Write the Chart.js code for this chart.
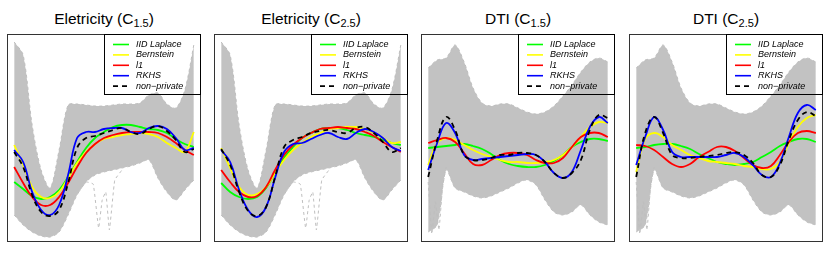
<!DOCTYPE html>
<html>
<head>
<meta charset="utf-8">
<script src="https://cdn.jsdelivr.net/npm/chart.js@4.4.1/dist/chart.umd.min.js"></script>
<style>
body { margin: 0; background: #fff; width: 830px; height: 277px; position: relative; overflow: hidden; font-family: "Liberation Sans", Arial, sans-serif; }
.panel { position: absolute; top: 34px; width: 194px; height: 208px; }
.title { position: absolute; top: 11px; width: 194px; text-align: center; font-size: 15.5px; line-height: 16px; color: #000; white-space: nowrap; }
.title sub { font-size: 11px; vertical-align: -3px; line-height: 0; }
</style>
</head>
<body>
<div class="title" style="left:7px">Eletricity (C<sub>1.5</sub>)</div>
<div class="title" style="left:214px">Eletricity (C<sub>2.5</sub>)</div>
<div class="title" style="left:421px">DTI (C<sub>1.5</sub>)</div>
<div class="title" style="left:629px">DTI (C<sub>2.5</sub>)</div>
<div class="panel" style="left:7px"><canvas id="c1" width="194" height="208"></canvas></div>
<div class="panel" style="left:214px"><canvas id="c2" width="194" height="208"></canvas></div>
<div class="panel" style="left:421px"><canvas id="c3" width="194" height="208"></canvas></div>
<div class="panel" style="left:629px"><canvas id="c4" width="194" height="208"></canvas></div>
<script>
// grid of the curves (percent of the domain)
const xs = [0, 5, 10, 15, 20, 25, 30, 35, 40, 45, 50, 55, 60, 65, 70, 75, 80, 85, 90, 95, 100];

// grey band of the sample curves (upper / lower edge), same data for both C values
const elecUpper = [200, 187, 117, 72, 54, 92, 137, 138, 137, 136, 136, 137, 138, 138, 139, 147, 149, 138, 134, 152, 197];
const elecLower = [27, 17, 10, 6, 5, 10, 27, 47, 60, 67, 70, 72, 74, 76, 79, 82, 64, 50, 42, 52, 62];
const dtiUpper = [174, 182, 184, 197, 180, 154, 139, 136, 138, 138, 134, 130, 128, 130, 136, 146, 157, 170, 180, 184, 180];
const dtiLower = [10, 17, 72, 54, 50, 46, 44, 46, 50, 54, 59, 62, 57, 42, 30, 27, 30, 37, 27, 20, 17];

// a few stray sample curves outside the band (own x positions)
const elecStrayX = [36, 40, 44, 47, 49, 51, 53, 56, 60];
const elecStrayY = [50, 60, 58, 14, 42, 50, 12, 62, 72];
const dtiStrayX = [0, 2, 4, 6, 8, 10];
const dtiStrayY = [60, 8, 40, 12, 55, 75];

// Eletricity, C1.5
const e15Laplace = [60, 53, 46, 43, 45, 52, 65, 80, 94, 104, 110, 115, 117, 117, 115, 113, 112, 109, 103, 98, 95];
const e15Bernstein = [97, 77, 55, 45, 44, 50, 64, 79, 90, 98, 103, 105, 107, 108, 109, 108, 105, 99, 94, 90, 110];
const e15L1 = [75, 59, 45, 37, 37, 45, 59, 75, 89, 98, 104, 107, 109, 110, 110, 110, 109, 105, 99, 92, 87];
const e15Rkhs = [92, 80, 50, 32, 27, 37, 67, 104, 110, 110, 113, 114, 114, 110, 109, 114, 116, 113, 104, 92, 94];
const e15NonPriv = [90, 75, 47, 30, 26, 32, 59, 94, 104, 106, 109, 112, 114, 110, 108, 113, 116, 111, 102, 90, 93];

// Eletricity, C2.5
const e25Laplace = [59, 50, 45, 43, 45, 54, 69, 84, 95, 104, 109, 113, 114, 114, 112, 109, 107, 105, 102, 99, 97];
const e25Bernstein = [94, 74, 55, 47, 48, 55, 69, 82, 92, 99, 105, 109, 113, 114, 115, 115, 113, 109, 104, 99, 100];
const e25L1 = [72, 60, 50, 45, 46, 55, 72, 87, 97, 104, 109, 113, 114, 115, 114, 113, 110, 106, 100, 95, 90];
const e25Rkhs = [92, 80, 52, 32, 25, 35, 64, 90, 98, 99, 103, 107, 109, 105, 103, 109, 113, 110, 104, 95, 91];
const e25NonPriv = [93, 77, 50, 31, 26, 35, 65, 95, 102, 105, 109, 111, 112, 110, 109, 114, 115, 109, 100, 90, 94];

// DTI, C1.5
const d15Laplace = [94, 95, 96, 97, 98, 96, 93, 88, 82, 78, 76, 75, 75, 77, 81, 87, 95, 100, 103, 103, 101];
const d15Bernstein = [77, 99, 104, 102, 97, 92, 88, 85, 82, 80, 80, 79, 79, 80, 82, 87, 95, 105, 115, 120, 119];
const d15L1 = [99, 102, 104, 100, 89, 78, 77, 82, 87, 89, 89, 87, 82, 79, 79, 84, 95, 105, 109, 109, 105];
const d15Rkhs = [72, 99, 119, 109, 87, 82, 83, 84, 85, 86, 87, 88, 87, 80, 69, 64, 70, 92, 115, 125, 119];
const d15NonPriv = [65, 102, 125, 112, 87, 82, 82, 84, 87, 87, 89, 89, 87, 80, 69, 64, 69, 82, 112, 127, 124];

// DTI, C2.5
const d25Laplace = [94, 95, 97, 98, 98, 96, 93, 88, 84, 80, 78, 77, 78, 80, 85, 90, 96, 100, 103, 103, 100];
const d25Bernstein = [70, 103, 109, 105, 97, 92, 87, 84, 81, 80, 79, 78, 76, 75, 73, 73, 80, 99, 115, 124, 127];
const d25L1 = [97, 96, 92, 85, 78, 75, 78, 85, 90, 95, 95, 91, 84, 77, 74, 76, 87, 100, 109, 111, 109];
const d25Rkhs = [77, 105, 125, 112, 90, 85, 85, 85, 85, 85, 87, 89, 85, 77, 67, 65, 79, 105, 129, 137, 132];
const d25NonPriv = [65, 109, 125, 109, 87, 84, 84, 85, 86, 87, 89, 90, 87, 79, 67, 65, 77, 102, 122, 130, 126];

const methodLabels = ['IID Laplace', 'Bernstein', 'l1', 'RKHS', 'non\u2212private'];
const methodColors = ['#00ff00', '#ffff00', '#ff0000', '#0000ff', '#000000'];

const pts = (vals, at) => (at || xs).map((x, i) => ({ x: x, y: vals[i] }));

// box round the plot area
const boxPlugin = {
    id: 'box',
    afterDraw(chart) {
        const { ctx, chartArea: a } = chart;
        ctx.save();
        ctx.strokeStyle = '#333';
        ctx.lineWidth = 1;
        ctx.strokeRect(a.left + 0.5, a.top + 0.5, a.width - 1, a.height - 1);
        ctx.restore();
    }
};

// legend in the top right corner, R style
const legendPlugin = {
    id: 'rlegend',
    afterDraw(chart) {
        const { ctx, chartArea: a } = chart;
        const w = 97, h = 61;
        const x0 = a.right - w, y0 = a.top;
        ctx.save();
        ctx.strokeStyle = '#000';
        ctx.lineWidth = 1;
        ctx.strokeRect(x0 + 0.5, y0 + 0.5, w - 1, h - 1);
        ctx.font = 'italic 9px "Liberation Sans", Arial, sans-serif';
        ctx.textBaseline = 'middle';
        const items = chart.data.datasets.filter(d => d.label);
        items.sort((p, q) => p.legendRow - q.legendRow);
        items.forEach((d, i) => {
            const y = y0 + 10.5 + i * 10.4;
            ctx.strokeStyle = d.borderColor;
            ctx.lineWidth = 1.6;
            ctx.setLineDash(d.borderDash || []);
            ctx.beginPath();
            ctx.moveTo(x0 + 9, y);
            ctx.lineTo(x0 + 25, y);
            ctx.stroke();
            ctx.setLineDash([]);
            ctx.fillStyle = '#000';
            ctx.fillText(d.label, x0 + 32, y);
        });
        ctx.restore();
    }
};

function makeChart(id, upper, lower, stray, curves) {
    const grey = { borderColor: '#bebebe', borderWidth: 1, borderDash: [3, 3], pointRadius: 0, tension: 0.3 };
    const datasets = [
        Object.assign({ label: '', data: pts(lower), fill: false, order: 10 }, grey),
        Object.assign({ label: '', data: pts(upper), fill: '-1', backgroundColor: '#c2c2c2', order: 9 }, grey),
        Object.assign({ label: '', data: pts(stray[1], stray[0]), fill: false, order: 8 }, grey, { tension: 0.1 })
    ];
    curves.forEach((vals, i) => {
        datasets.push({
            label: methodLabels[i],
            legendRow: i,
            data: pts(vals),
            borderColor: methodColors[i],
            borderWidth: 1.8,
            borderDash: i === 4 ? [5, 4] : [],
            pointRadius: 0,
            fill: false,
            tension: 0.4,
            order: 5 - i
        });
    });
    return new Chart(document.getElementById(id), {
        type: 'line',
        data: { datasets: datasets },
        options: {
            responsive: false,
            animation: false,
            layout: { padding: 0 },
            plugins: { legend: { display: false }, tooltip: { enabled: false } },
            scales: {
                x: { type: 'linear', min: -4, max: 104, display: false },
                y: { min: 0, max: 208, display: false }
            }
        },
        plugins: [boxPlugin, legendPlugin]
    });
}

makeChart('c1', elecUpper, elecLower, [elecStrayX, elecStrayY], [e15Laplace, e15Bernstein, e15L1, e15Rkhs, e15NonPriv]);
makeChart('c2', elecUpper, elecLower, [elecStrayX, elecStrayY], [e25Laplace, e25Bernstein, e25L1, e25Rkhs, e25NonPriv]);
makeChart('c3', dtiUpper, dtiLower, [dtiStrayX, dtiStrayY], [d15Laplace, d15Bernstein, d15L1, d15Rkhs, d15NonPriv]);
makeChart('c4', dtiUpper, dtiLower, [dtiStrayX, dtiStrayY], [d25Laplace, d25Bernstein, d25L1, d25Rkhs, d25NonPriv]);
</script>
</body>
</html>
